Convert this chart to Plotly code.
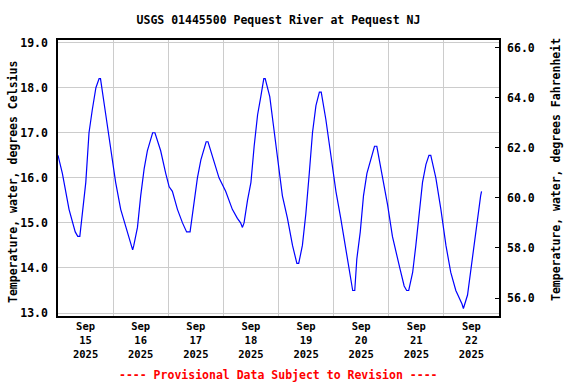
import pandas as pd
import plotly.graph_objects as go

# ---- data (hours after 2025-09-15 00:00, deg C) ----
hours = [0, 1.9, 4.8, 7.5, 8.6, 9.5, 12.1, 13.5, 14.9, 16.5, 17.9, 18.5, 20.8, 22.2,
         23.7, 25.1, 27.3, 29.5, 32.0, 32.5, 33.0, 34.6, 36.0, 37.5, 38.9, 41.2, 42.2,
         44.7, 46.9, 48.4, 49.8, 52.0, 54.2, 56.0, 57.5, 59.2, 60.7, 62.2, 64.5, 65.3,
         67.2, 70.1, 73.0, 75.9, 78.1, 79.5, 80.3, 81.0, 82.5, 84.0, 85.4, 86.9, 88.3,
         89.6, 90.2, 92.2, 93.7, 94.9, 96.3, 97.7, 99.9, 102.1, 104.0, 104.8, 106.4,
         107.9, 109.4, 110.8, 112.3, 113.8, 114.6, 116.6, 118.8, 121.0, 123.1, 125.3,
         126.8, 128.3, 129.2, 130.1, 131.6, 133.0, 134.5, 137.8, 138.8, 141.3, 143.5,
         145.6, 147.1, 148.8, 150.7, 151.8, 152.7, 154.4, 155.8, 157.3, 158.7, 160.2,
         161.5, 162.3, 164.5, 166.7, 168.9, 171.0, 173.2, 175.9, 176.5, 178.3, 179.8,
         181.2, 182.7, 184.0, 184.4]
temp_c = [16.5, 16.1, 15.3, 14.8, 14.7, 14.7, 15.9, 17.0, 17.5, 18.0, 18.2, 18.2, 17.4, 16.9,
          16.4, 15.9, 15.3, 14.9, 14.5, 14.4, 14.5, 14.9, 15.6, 16.2, 16.6, 17.0, 17.0,
          16.6, 16.1, 15.8, 15.7, 15.3, 15.0, 14.8, 14.8, 15.5, 16.0, 16.4, 16.8, 16.8,
          16.5, 16.0, 15.7, 15.3, 15.1, 15.0, 14.9, 15.0, 15.5, 15.9, 16.7, 17.4, 17.8,
          18.2, 18.2, 17.8, 17.2, 16.7, 16.1, 15.6, 15.1, 14.5, 14.1, 14.1, 14.5,
          15.2, 16.1, 17.0, 17.6, 17.9, 17.9, 17.3, 16.5, 15.7, 15.1, 14.4,
          13.9, 13.5, 13.5, 14.2, 14.8, 15.6, 16.1, 16.7, 16.7, 16.0, 15.4,
          14.7, 14.4, 14.0, 13.6, 13.5, 13.5, 13.9, 14.5, 15.3, 15.9, 16.3,
          16.5, 16.5, 16.0, 15.3, 14.5, 13.9, 13.5, 13.2, 13.1, 13.4, 14.0,
          14.6, 15.2, 15.6, 15.7]

day_labels = ["Sep<br>15<br>2025", "Sep<br>16<br>2025", "Sep<br>17<br>2025", "Sep<br>18<br>2025",
              "Sep<br>19<br>2025", "Sep<br>20<br>2025", "Sep<br>21<br>2025", "Sep<br>22<br>2025"]
day_noons = ["2025-09-15 12:00", "2025-09-16 12:00", "2025-09-17 12:00", "2025-09-18 12:00",
             "2025-09-19 12:00", "2025-09-20 12:00", "2025-09-21 12:00", "2025-09-22 12:00"]
c_ticks = [13, 14, 15, 16, 17, 18, 19]
f_ticks = [56, 58, 60, 62, 64, 66]

times = pd.Timestamp("2025-09-15 00:00") + pd.to_timedelta(hours, unit="h")
temp_f = [c * 1.8 + 32 for c in temp_c]

y_rng = [12.934, 19.058]
FONT = "DejaVu Sans Mono"

fig = go.Figure()
fig.add_trace(go.Scatter(x=times, y=temp_c, mode="lines",
                         line=dict(color="#0000ff", width=1.2), showlegend=False))
fig.add_trace(go.Scatter(x=times, y=temp_f, mode="lines", yaxis="y2",
                         line=dict(color="rgba(0,0,0,0)", width=0), showlegend=False,
                         hoverinfo="skip"))

fig.update_layout(
    width=576, height=384,
    margin=dict(l=58, r=77, t=40, b=68, autoexpand=False),
    paper_bgcolor="white", plot_bgcolor="white",
    font=dict(family=FONT, size=11.5, color="black"),
    title=dict(text="<b>USGS 01445500 Pequest River at Pequest NJ</b>",
               x=0.5, xref="paper", xanchor="center",
               y=1 - 20 / 384, yref="container", yanchor="middle",
               font=dict(family=FONT, size=11.5, color="black")),
    xaxis=dict(type="date", range=["2025-09-15 00:00", "2025-09-23 00:00"],
               tickmode="array", tickvals=day_noons,
               ticktext=["<b>" + t.replace("<br>", "</b><br><b>") + "</b>" for t in day_labels],
               ticks="", showgrid=False, showline=True, linecolor="black", linewidth=1.5,
               mirror=True, zeroline=False,
               tickfont=dict(family=FONT, size=10.5, color="black"),
               minor=dict(dtick=86400000, tick0="2025-09-15", showgrid=True,
                          gridcolor="#cccccc", gridwidth=1, ticks="")),
    yaxis=dict(range=y_rng, tickmode="array", tickvals=c_ticks,
               ticktext=["<b>%.1f</b>" % v for v in c_ticks],
               ticks="", showgrid=True, gridcolor="#cccccc", gridwidth=1,
               showline=True, linecolor="black", linewidth=1.5, zeroline=False,
               ticklabelstandoff=6,
               tickfont=dict(family=FONT, size=11.5, color="black")),
    yaxis2=dict(range=[y_rng[0] * 1.8 + 32, y_rng[1] * 1.8 + 32], overlaying="y",
                side="right", tickmode="array", tickvals=f_ticks,
                ticktext=["<b>%.1f</b>" % v for v in f_ticks],
                ticks="inside", ticklen=4, tickcolor="black", showgrid=False,
                showline=True, linecolor="black", linewidth=1.5, zeroline=False,
                ticklabelstandoff=4,
                tickfont=dict(family=FONT, size=11.5, color="black")),
)

fig.add_annotation(text="<b>Temperature, water, degrees Celsius</b>", textangle=-90,
                   xref="paper", yref="paper", x=(13 - 58) / 441, y=(316 - 182) / 276,
                   xanchor="center", yanchor="middle", showarrow=False,
                   font=dict(family=FONT, size=11.5, color="black"))
fig.add_annotation(text="<b>Temperature, water, degrees Fahrenheit</b>", textangle=-90,
                   xref="paper", yref="paper", x=(556 - 58) / 441, y=(316 - 170) / 276,
                   xanchor="center", yanchor="middle", showarrow=False,
                   font=dict(family=FONT, size=11.5, color="black"))
fig.add_annotation(text="<b>---- Provisional Data Subject to Revision ----</b>",
                   xref="paper", yref="paper", x=0.5, y=(316 - 375) / 276,
                   xanchor="center", yanchor="middle", showarrow=False,
                   font=dict(family=FONT, size=11.5, color="#ff0000"))

fig.write_html("out.html", config={"displayModeBar": False},
               post_script="document.body.style.margin='0px';")
